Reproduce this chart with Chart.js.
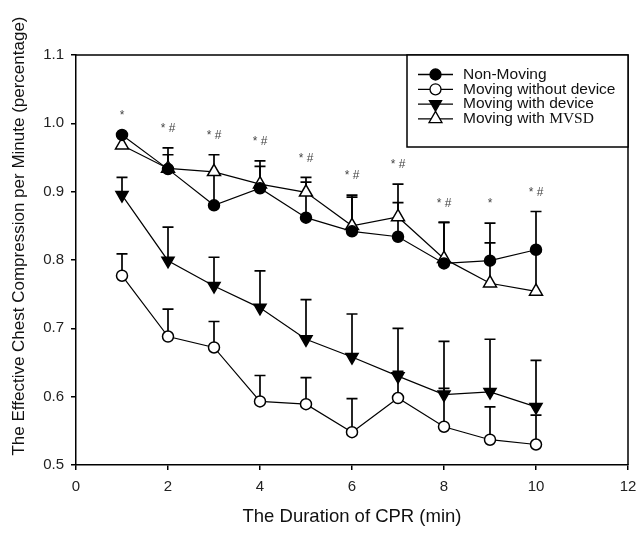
<!DOCTYPE html>
<html>
<head>
<meta charset="utf-8">
<script src="https://cdn.jsdelivr.net/npm/chart.js@4.4.1/dist/chart.umd.min.js"></script>
<style>
  html, body { margin: 0; padding: 0; background: #fff; }
  #wrap { width: 638px; height: 534px; }
</style>
</head>
<body>
<div id="wrap"><canvas id="cprChart" width="638" height="534"></canvas></div>
<script>
// Daten
const minutes = [1, 2, 3, 4, 5, 6, 7, 8, 9, 10];

const nonMoving      = [0.983, 0.933, 0.880, 0.905, 0.862, 0.842, 0.834, 0.795, 0.799, 0.815];
const movingNoDevice = [0.777, 0.688, 0.672, 0.593, 0.589, 0.548, 0.598, 0.556, 0.537, 0.530];
const movingDevice   = [0.895, 0.799, 0.762, 0.730, 0.684, 0.658, 0.630, 0.603, 0.607, 0.585];
const movingMvsd     = [0.968, 0.934, 0.929, 0.911, 0.899, 0.850, 0.863, 0.802, 0.766, 0.754];

// obere Enden der Fehlerbalken (null = nicht sichtbar)
const nonMovingUpper      = [null, 0.964, 0.954, 0.945, 0.921, 0.895, 0.911, 0.855, 0.854, 0.871];
const movingNoDeviceUpper = [0.809, 0.728, 0.710, 0.631, 0.628, 0.597, 0.637, 0.612, 0.585, 0.573];
const movingDeviceUpper   = [0.921, 0.848, 0.804, 0.784, 0.742, 0.721, 0.700, 0.681, 0.684, 0.653];
const movingMvsdUpper     = [null, 0.954, null, 0.937, 0.914, 0.892, 0.884, 0.855, 0.825, 0.812];

// Signifikanz-Markierungen
const sigLabels = ['*', '* #', '* #', '* #', '* #', '* #', '* #', '* #', '*', '* #'];

const yTicks = [0.5, 0.6, 0.7, 0.8, 0.9, 1.0, 1.1];
const xTicks = [0, 2, 4, 6, 8, 10, 12];

const yTitle = 'The Effective Chest Compression per Minute (percentage)';
const xTitle = 'The Duration of CPR (min)';

const FONT = "'Liberation Sans', Arial, sans-serif";

function toPoints(values) {
    return minutes.map((m, i) => ({ x: m, y: values[i] }));
}

// --- Plugins ---

const errorBarPlugin = {
    id: 'errorBars',
    beforeDatasetsDraw(chart) {
        const { ctx, scales: { x, y } } = chart;
        ctx.save();
        ctx.strokeStyle = '#000';
        ctx.lineWidth = 1.7;
        chart.data.datasets.forEach(ds => {
            ds.upper.forEach((u, i) => {
                if (u === null) return;
                const px = x.getPixelForValue(minutes[i]);
                const py0 = y.getPixelForValue(ds.data[i].y);
                const py1 = y.getPixelForValue(u);
                ctx.beginPath();
                ctx.moveTo(px, py0);
                ctx.lineTo(px, py1);
                ctx.moveTo(px - 5.5, py1);
                ctx.lineTo(px + 5.5, py1);
                ctx.stroke();
            });
        });
        ctx.restore();
    }
};

const framePlugin = {
    id: 'frameLegendStars',
    afterDraw(chart) {
        const { ctx, chartArea: a, scales: { x, y } } = chart;
        ctx.save();

        // Rahmen oben / rechts
        ctx.strokeStyle = '#000';
        ctx.lineWidth = 1.5;
        ctx.beginPath();
        ctx.moveTo(a.left, a.top);
        ctx.lineTo(a.right, a.top);
        ctx.lineTo(a.right, a.bottom);
        ctx.stroke();

        // Y-Achsentitel (etwas oberhalb der Mitte wie im Original)
        ctx.save();
        ctx.translate(19, 236);
        ctx.rotate(-Math.PI / 2);
        ctx.fillStyle = '#111';
        ctx.font = '17px ' + FONT;
        ctx.textAlign = 'center';
        ctx.textBaseline = 'middle';
        ctx.fillText(yTitle, 0, 0);
        ctx.restore();

        // Sternchen über den Balken
        ctx.fillStyle = '#444';
        ctx.font = '12px ' + FONT;
        ctx.textAlign = 'center';
        ctx.textBaseline = 'middle';
        minutes.forEach((m, i) => {
            const tops = chart.data.datasets.map(ds => ds.upper[i] !== null ? ds.upper[i] : ds.data[i].y);
            const top = Math.max(...tops);
            const px = x.getPixelForValue(m);
            const py = y.getPixelForValue(top) - 19;
            ctx.fillText(sigLabels[i], px, py);
        });

        // Legende
        const box = { left: 407, top: a.top, right: a.right, bottom: 147 };
        ctx.fillStyle = '#fff';
        ctx.fillRect(box.left, box.top, box.right - box.left, box.bottom - box.top);
        ctx.strokeStyle = '#000';
        ctx.lineWidth = 1.5;
        ctx.strokeRect(box.left, box.top, box.right - box.left, box.bottom - box.top);

        chart.data.datasets.forEach((ds, i) => {
            const rowY = 74.5 + i * 14.8;
            ctx.strokeStyle = '#000';
            ctx.lineWidth = 1.3;
            ctx.beginPath();
            ctx.moveTo(418, rowY);
            ctx.lineTo(453, rowY);
            ctx.stroke();

            ctx.fillStyle = ds.pointBackgroundColor;
            ctx.strokeStyle = '#000';
            Chart.helpers.drawPoint(ctx, {
                pointStyle: ds.pointStyle,
                rotation: ds.pointRotation || 0,
                radius: ds.pointRadius,
                borderWidth: ds.pointBorderWidth
            }, 435.5, rowY);

            ctx.fillStyle = '#111';
            ctx.textAlign = 'left';
            ctx.textBaseline = 'middle';
            if (ds.label.endsWith('MVSD')) {
                const head = 'Moving with ';
                ctx.font = '15.5px ' + FONT;
                ctx.fillText(head, 463, rowY);
                const w = ctx.measureText(head).width;
                ctx.font = "15.5px 'Liberation Serif', 'Times New Roman', serif";
                ctx.fillText('MVSD', 463 + w, rowY);
            } else {
                ctx.font = '15.5px ' + FONT;
                ctx.fillText(ds.label, 463, rowY);
            }
        });

        ctx.restore();
    }
};

// --- Chart ---

const lineBase = {
    borderColor: '#000',
    borderWidth: 1.2,
    pointBorderColor: '#000',
    pointBorderWidth: 1.5,
    showLine: true,
    tension: 0
};

new Chart(document.getElementById('cprChart').getContext('2d'), {
    type: 'scatter',
    data: {
        datasets: [
            Object.assign({}, lineBase, {
                label: 'Non-Moving',
                data: toPoints(nonMoving),
                upper: nonMovingUpper,
                pointStyle: 'circle',
                pointRadius: 5.5,
                pointBackgroundColor: '#000'
            }),
            Object.assign({}, lineBase, {
                label: 'Moving without device',
                data: toPoints(movingNoDevice),
                upper: movingNoDeviceUpper,
                pointStyle: 'circle',
                pointRadius: 5.5,
                pointBackgroundColor: '#fff'
            }),
            Object.assign({}, lineBase, {
                label: 'Moving with device',
                data: toPoints(movingDevice),
                upper: movingDeviceUpper,
                pointStyle: 'triangle',
                pointRotation: 180,
                pointRadius: 7,
                pointBackgroundColor: '#000'
            }),
            Object.assign({}, lineBase, {
                label: 'Moving with MVSD',
                data: toPoints(movingMvsd),
                upper: movingMvsdUpper,
                pointStyle: 'triangle',
                pointRadius: 7.5,
                pointBackgroundColor: '#fff'
            })
        ]
    },
    options: {
        responsive: false,
        animation: false,
        events: [],
        layout: { padding: { left: 0, top: 55, right: 10, bottom: 0 } },
        plugins: {
            legend: { display: false },
            tooltip: { enabled: false }
        },
        scales: {
            x: {
                type: 'linear',
                min: 0,
                max: 12,
                afterFit(scale) {
                    scale.height = 69;
                    scale.paddingLeft = 0;
                    scale.paddingRight = 0;
                },
                afterBuildTicks(scale) { scale.ticks = xTicks.map(v => ({ value: v })); },
                grid: { display: true, drawOnChartArea: false, drawTicks: true, tickLength: 5, color: '#000', lineWidth: 1.5 },
                border: { display: true, color: '#000', width: 1.5 },
                ticks: { color: '#222', font: { family: FONT, size: 15 }, padding: 8, maxRotation: 0, callback: v => String(v) },
                title: { display: true, text: xTitle, color: '#111', font: { family: FONT, size: 18.5 }, padding: { top: 0, bottom: 6 } }
            },
            y: {
                type: 'linear',
                min: 0.5,
                max: 1.1,
                afterFit(scale) {
                    scale.width = 76;
                    scale.paddingTop = 0;
                    scale.paddingBottom = 0;
                },
                afterBuildTicks(scale) { scale.ticks = yTicks.map(v => ({ value: v })); },
                grid: { display: true, drawOnChartArea: false, drawTicks: true, tickLength: 5, color: '#000', lineWidth: 1.5 },
                border: { display: true, color: '#000', width: 1.5 },
                ticks: { color: '#222', font: { family: FONT, size: 15 }, padding: 7, callback: v => v.toFixed(1) },
                title: { display: false }
            }
        }
    },
    plugins: [errorBarPlugin, framePlugin]
});
</script>
</body>
</html>
